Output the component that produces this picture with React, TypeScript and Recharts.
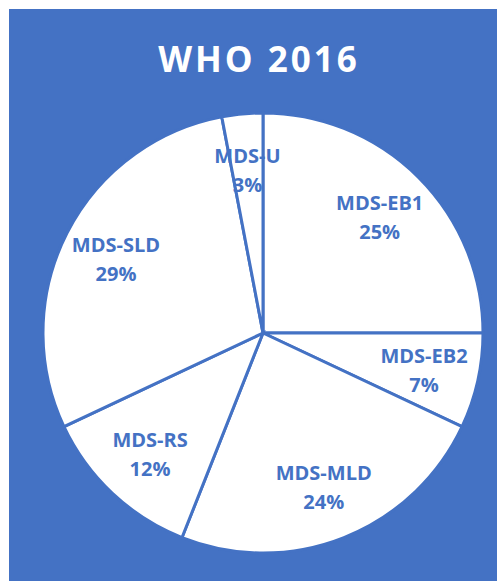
import React from 'react';
import { PieChart, Pie, Cell } from 'recharts';

const categories = ['MDS-EB1', 'MDS-EB2', 'MDS-MLD', 'MDS-RS', 'MDS-SLD', 'MDS-U'];
const shares = [25, 7, 24, 12, 29, 3];

const BLUE = '#4472C4';
const RADIAN = Math.PI / 180;

const data = categories.map((name, i) => ({ name, value: shares[i] }));

const SliceLabel = (props: any) => {
    const { cx, cy, midAngle, outerRadius, percent, name } = props;
    if (cx == null || cy == null || isNaN(midAngle)) return null;
    const r = outerRadius * 0.75;
    const x = cx + r * Math.cos(-midAngle * RADIAN);
    const y = cy + r * Math.sin(-midAngle * RADIAN);
    return (
        <text
            x={x}
            y={y}
            fill={BLUE}
            textAnchor="middle"
            fontFamily="'Open Sans', sans-serif"
            fontWeight={700}
            fontSize={20}
        >
            <tspan x={x} dy={-6}>{name}</tspan>
            <tspan x={x} dy={29}>{`${Math.round(percent * 100)}%`}</tspan>
        </text>
    );
};

export default function App() {
    return (
        <div style={{ position: 'absolute', left: 9, top: 9, width: 488, height: 572, background: BLUE }}>
            <div
                style={{
                    position: 'absolute',
                    left: 6,
                    top: 26,
                    width: 488,
                    textAlign: 'center',
                    color: '#fff',
                    fontFamily: "'Open Sans', sans-serif",
                    fontWeight: 700,
                    fontSize: 35,
                    letterSpacing: 3,
                }}
            >
                WHO 2016
            </div>
            <PieChart width={488} height={572} style={{ position: 'absolute', left: 0, top: 0 }}>
                <Pie
                    data={data}
                    dataKey="value"
                    nameKey="name"
                    cx={249}
                    cy={319}
                    outerRadius={220}
                    startAngle={90}
                    endAngle={-270}
                    stroke={BLUE}
                    strokeWidth={3}
                    labelLine={false}
                    label={SliceLabel}
                    isAnimationActive={false}
                >
                    {data.map((d) => (
                        <Cell key={d.name} fill="#ffffff" />
                    ))}
                </Pie>
            </PieChart>
        </div>
    );
}
